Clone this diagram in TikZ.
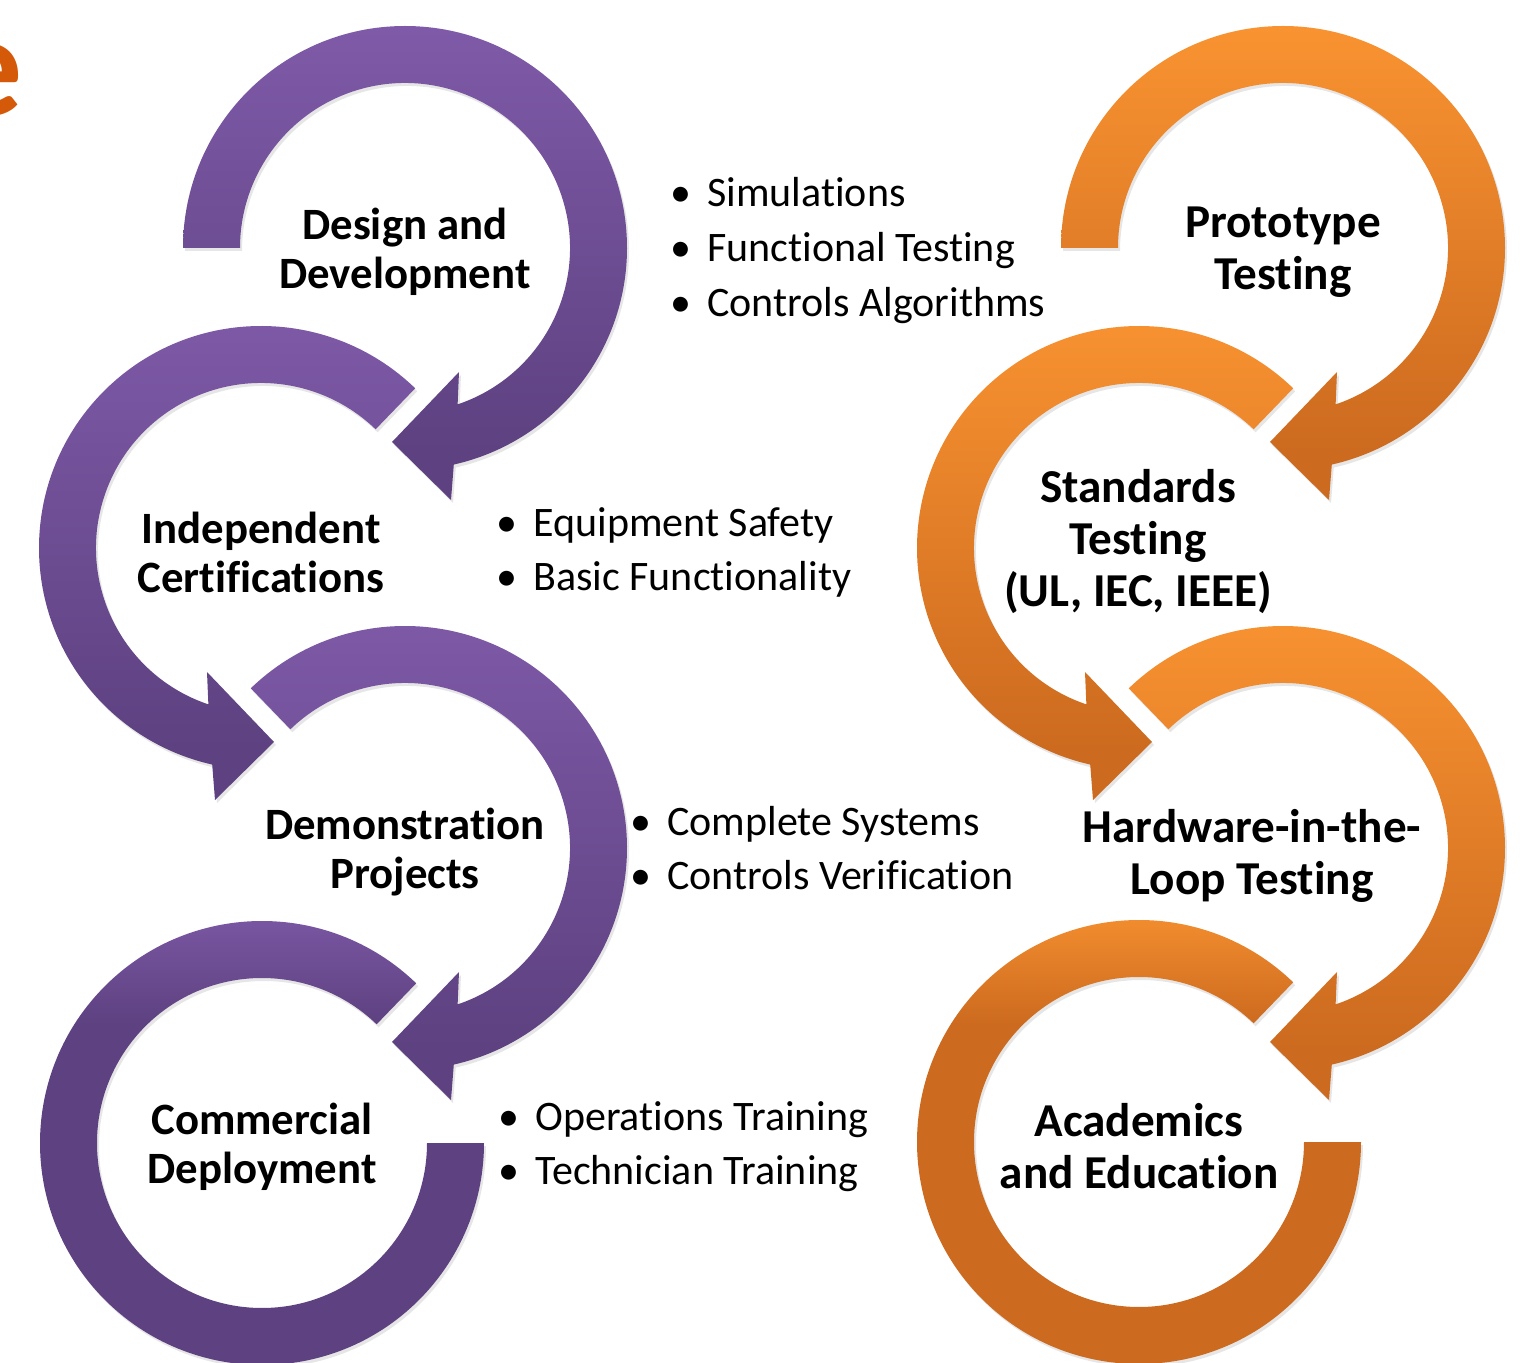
\documentclass[tikz,border=0pt]{standalone}
\usepackage{fontspec}
\setmainfont{Carlito}[Ligatures=NoCommon]
\usepackage{tikz}
\usetikzlibrary{shadows}
\definecolor{purplelight}{HTML}{7F5AA8}
\definecolor{purpledark}{HTML}{5D4180}
\definecolor{orangelight}{HTML}{F99331}
\definecolor{orangedark}{HTML}{CC6A1F}
\definecolor{titleorange}{HTML}{D45A0A}

% light at the top, dark further down (25bp..75bp covers the path)
\pgfdeclareverticalshading{ringpurple}{100bp}{color(0bp)=(purpledark); color(30bp)=(purpledark); color(75bp)=(purplelight); color(100bp)=(purplelight)}
\pgfdeclareverticalshading{ringpurpledeep}{100bp}{color(0bp)=(purpledark); color(62bp)=(purpledark); color(75bp)=(purplelight); color(100bp)=(purplelight)}
\pgfdeclareverticalshading{ringorange}{100bp}{color(0bp)=(orangedark); color(30bp)=(orangedark); color(75bp)=(orangelight); color(100bp)=(orangelight)}
\pgfdeclareverticalshading{ringorangedeep}{100bp}{color(0bp)=(orangedark); color(62bp)=(orangedark); color(75bp)=(orangelight); color(100bp)=(orangelight)}

% clockwise ring with arrow head at the bottom left: centre, start angle, shading
\newcommand{\cwring}[3]{%
  \path[ring, shading=#3, shift={(#1)}]
    (#2:222) arc[start angle=#2, end angle=-77.3, radius=222]
    -- (46,-252) -- (-13,-194) -- (54,-124)
    -- (-71.4:165) arc[start angle=-71.4, end angle=#2, radius=165] -- cycle;}
% anticlockwise ring with arrow head at the bottom right
\newcommand{\ccwring}[3]{%
  \path[ring, shading=#3, shift={(#1)}]
    (#2:222) arc[start angle=#2, end angle=257.3, radius=222]
    -- (-46,-252) -- (13,-194) -- (-54,-124)
    -- (251.4:165) arc[start angle=251.4, end angle=#2, radius=165] -- cycle;}
% last ring of a column, cut flat on the right
\newcommand{\lastring}[3]{%
  \path[ring, shading=#3, shift={(#1)}]
    (#2:222) arc[start angle=#2, end angle=360, radius=222]
    -- (0:165) arc[start angle=360, end angle=#2, radius=165] -- cycle;}
\newcommand{\bul}{\makebox[26pt][c]{\textbullet}}

\begin{document}
\begin{tikzpicture}[x=0.5pt, y=0.5pt,
    ring/.style={shade, drop shadow={opacity=0.2, shadow xshift=1pt, shadow yshift=-1.5pt}},
    stage/.style={align=center, inner sep=0pt, yshift=-2pt, font=\bfseries\fontsize{22.4}{24.5}\selectfont},
    bigstage/.style={stage, font=\bfseries\fontsize{23.6}{26}\selectfont},
    notes/.style={align=left, anchor=west, inner sep=0pt, yshift=-2pt, font=\fontsize{21}{27.3}\selectfont}]
    \useasboundingbox (0,0) rectangle (1522,1362);
    \clip (0,0) rectangle (1522,1362);

    % ring centres
    \coordinate (c1) at (405,1114);
    \coordinate (c2) at (261,814);
    \coordinate (c3) at (405,514);
    \coordinate (c4) at (262,219);
    \coordinate (c5) at (1283,1114);
    \coordinate (c6) at (1139,814);
    \coordinate (c7) at (1283,514);
    \coordinate (c8) at (1139,220);

    \node[anchor=base east, text=titleorange, font=\bfseries\fontsize{73}{80}\selectfont] (headline) at (30,1246) {e};

    % purple column
    \cwring{c1}{180}{ringpurple}
    \ccwring{c2}{46}{ringpurple}
    \cwring{c3}{134}{ringpurple}
    \lastring{c4}{46}{ringpurpledeep}

    % orange column
    \cwring{c5}{180}{ringorange}
    \ccwring{c6}{46}{ringorange}
    \cwring{c7}{134}{ringorange}
    \lastring{c8}{46}{ringorangedeep}

    \node[stage] (design) at (c1) {Design and\\Development};
    \node[stage] (certif) at (c2) {Independent\\Certifications};
    \node[stage] (demo) at (c3) {Demonstration\\Projects};
    \node[stage] (deploy) at (c4) {Commercial\\Deployment};
    \node[bigstage] (proto) at (c5) {Prototype\\Testing};
    \node[bigstage] (standards) at (1138,824) {Standards\\Testing\\(UL, IEC, IEEE)};
    \node[bigstage] (hil) at (1252,510) {Hardware-in-the-\\Loop Testing};
    \node[bigstage] (academics) at (c8) {Academics\\and Education};

    \node[notes] (simnotes) at (655,1115.5) {\bul Simulations\\\bul Functional Testing\\\bul Controls Algorithms};
    \node[notes] (certnotes) at (481,813.5) {\bul Equipment Safety\\\bul Basic Functionality};
    \node[notes] (demonotes) at (615,518) {\bul Complete Systems\\\bul Controls Verification};
    \node[notes] (trainnotes) at (483,219.5) {\bul Operations Training\\\bul Technician Training};
\end{tikzpicture}
\end{document}
